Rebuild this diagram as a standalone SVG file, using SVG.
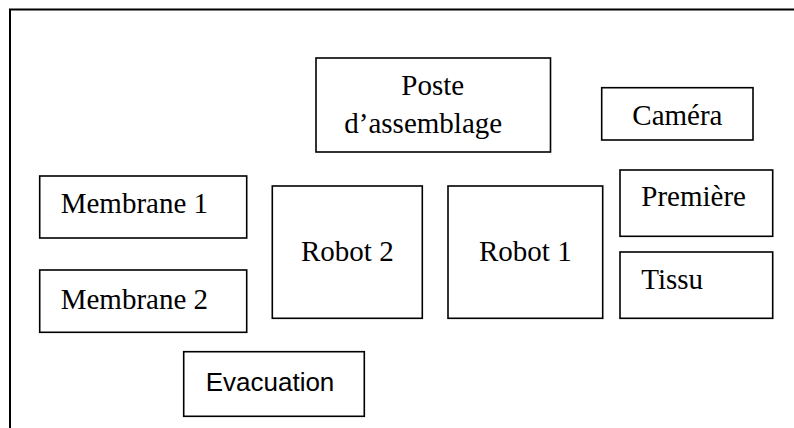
<svg xmlns="http://www.w3.org/2000/svg" width="794" height="428" viewBox="0 0 794 428">
<style>
.box{fill:#fff;stroke:#000;stroke-width:1.6}
.t{font-family:"Liberation Serif","Times New Roman",serif;font-size:29px;fill:#000}
.s{font-family:"Liberation Sans",Arial,sans-serif;font-size:26px;fill:#000}
.frame{fill:none;stroke:#000;stroke-width:2}
</style>
<rect width="794" height="428" fill="#fff"/>
<path class="frame" d="M10 428 V9.5 H794"/>
<g id="poste"><rect class="box" x="316" y="58" width="234.5" height="94"/><text class="t" x="401.3" y="94.7">Poste</text><text class="t" x="344.3" y="133.3">d’assemblage</text></g>
<g id="camera"><rect class="box" x="601.7" y="87.7" width="151.3" height="52.3"/><text class="t" x="632.3" y="125.3">Caméra</text></g>
<g id="membrane1"><rect class="box" x="39.7" y="176" width="207" height="62"/><text class="t" x="60.7" y="213.3">Membrane 1</text></g>
<g id="membrane2"><rect class="box" x="39.7" y="270" width="207" height="62.3"/><text class="t" x="60.7" y="308.7">Membrane 2</text></g>
<g id="robot2"><rect class="box" x="272.3" y="186" width="150" height="132.3"/><text class="t" x="301" y="260.7">Robot 2</text></g>
<g id="robot1"><rect class="box" x="448" y="186" width="154.7" height="132.3"/><text class="t" x="479" y="261.3">Robot 1</text></g>
<g id="premiere"><rect class="box" x="620" y="170" width="152.7" height="66.3"/><text class="t" x="641.3" y="205.7">Première</text></g>
<g id="tissu"><rect class="box" x="620" y="252" width="152.7" height="66.3"/><text class="t" x="641.3" y="288.7">Tissu</text></g>
<g id="evacuation"><rect class="box" x="183.7" y="351.7" width="180.6" height="64.6"/><text class="s" x="205.7" y="390.7">Evacuation</text></g>
<g id="connectors"></g>
</svg>
